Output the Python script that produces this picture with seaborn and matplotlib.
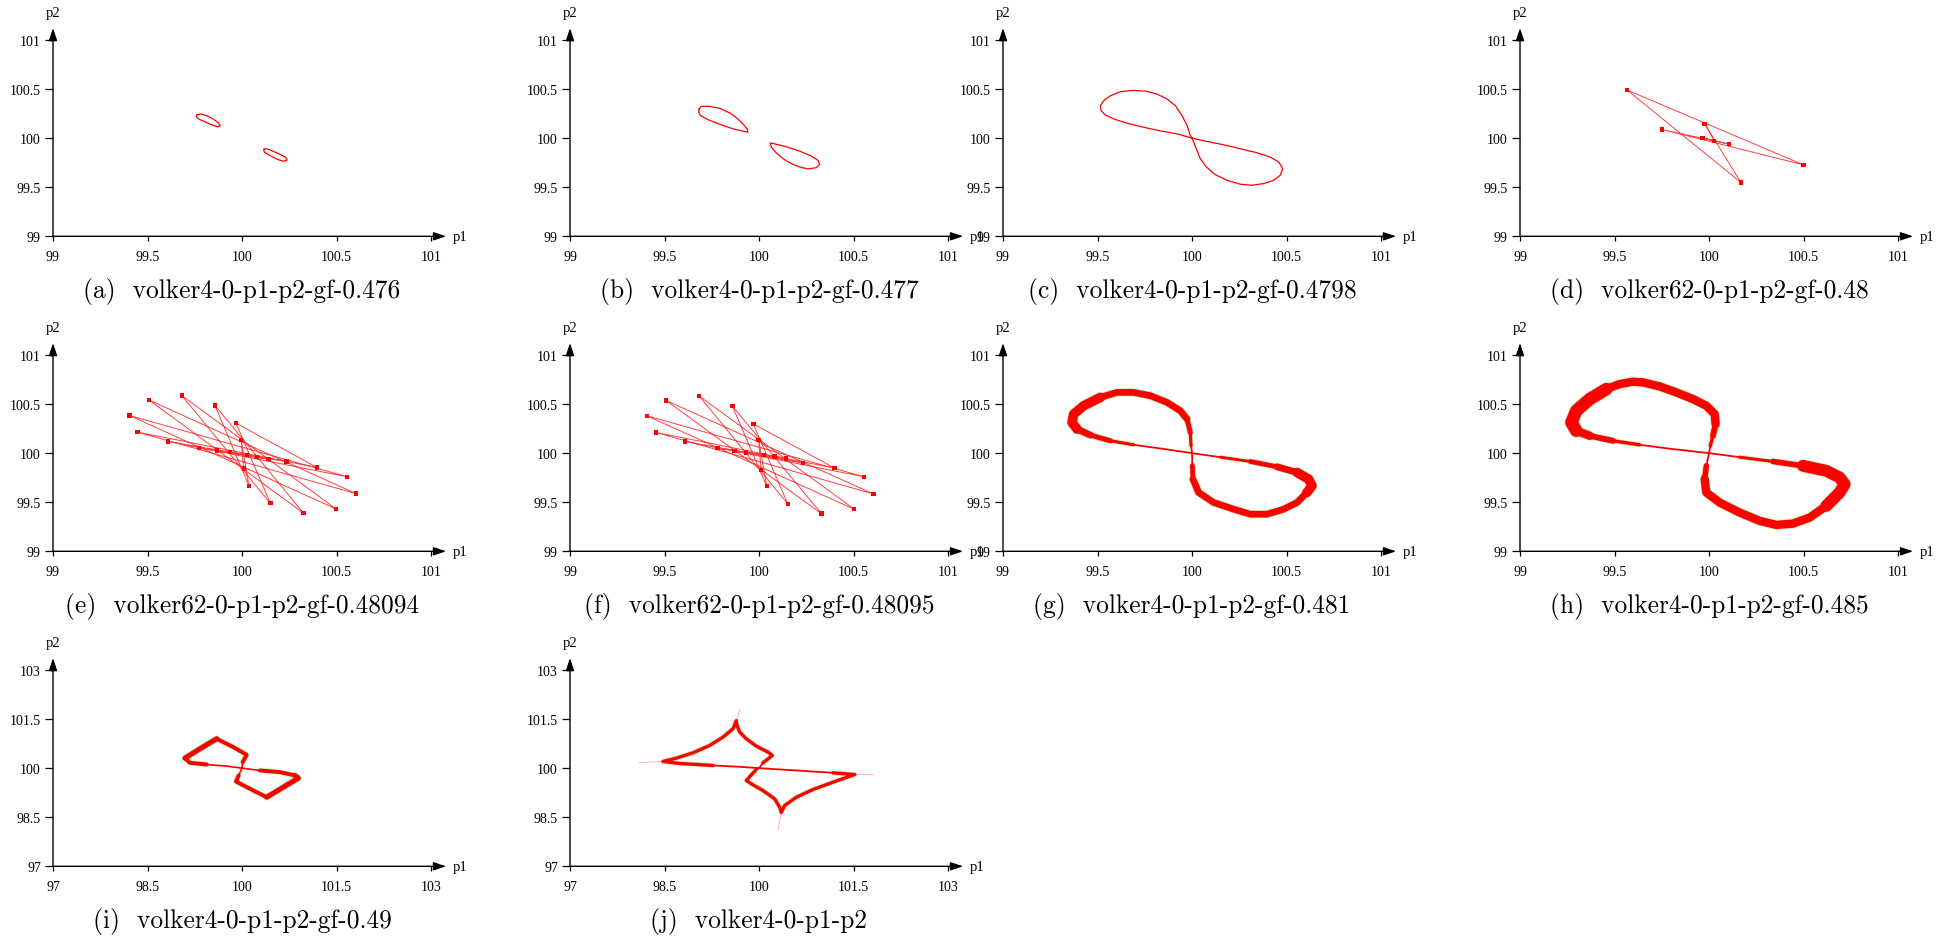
import matplotlib
matplotlib.use("Agg")
import matplotlib.pyplot as plt
import seaborn as sns
import pandas as pd

sns.set_theme(style="white")
plt.rcParams["font.family"] = ["Liberation Serif", "DejaVu Serif"]
for k in ["text.color", "axes.labelcolor", "xtick.color", "ytick.color"]:
    plt.rcParams[k] = "black"

# ---------------- data ----------------
TICKS_SMALL = [99, 99.5, 100, 100.5, 101]
TICK_LABELS_SMALL = ["99", "99.5", "100", "100.5", "101"]
TICKS_LARGE = [97, 98.5, 100, 101.5, 103]
TICK_LABELS_LARGE = ["97", "98.5", "100", "101.5", "103"]

CAPTIONS = [
    "(a)  volker4-0-p1-p2-gf-0.476",
    "(b)  volker4-0-p1-p2-gf-0.477",
    "(c)  volker4-0-p1-p2-gf-0.4798",
    "(d)  volker62-0-p1-p2-gf-0.48",
    "(e)  volker62-0-p1-p2-gf-0.48094",
    "(f)  volker62-0-p1-p2-gf-0.48095",
    "(g)  volker4-0-p1-p2-gf-0.481",
    "(h)  volker4-0-p1-p2-gf-0.485",
    "(i)  volker4-0-p1-p2-gf-0.49",
    "(j)  volker4-0-p1-p2",
]

A_LOOP_UPPER = [(99.761, 100.236), (99.779, 100.247), (99.806, 100.233), (99.841, 100.203),
                (99.876, 100.155), (99.885, 100.125), (99.871, 100.115), (99.841, 100.135),
                (99.800, 100.169), (99.770, 100.196), (99.758, 100.220)]
A_LOOP_LOWER = [(100.115, 99.885), (100.124, 99.895), (100.154, 99.875), (100.194, 99.841),
                (100.230, 99.807), (100.239, 99.777), (100.221, 99.764), (100.186, 99.784),
                (100.147, 99.824), (100.118, 99.858)]

B_LOOP_UPPER = [(99.683, 100.297), (99.695, 100.324), (99.739, 100.324), (99.792, 100.304),
                (99.845, 100.257), (99.884, 100.203), (99.915, 100.145), (99.937, 100.095),
                (99.942, 100.061), (99.924, 100.068), (99.862, 100.095), (99.792, 100.142),
                (99.730, 100.189), (99.690, 100.230), (99.681, 100.264)]
B_LOOP_LOWER = [(100.060, 99.949), (100.074, 99.946), (100.145, 99.912), (100.215, 99.868),
                (100.277, 99.818), (100.312, 99.774), (100.321, 99.733), (100.303, 99.699),
                (100.259, 99.686), (100.215, 99.706), (100.171, 99.740), (100.127, 99.791),
                (100.092, 99.848), (100.065, 99.909)]

C_LOBE_LEFT = [(100.000, 100.000), (99.991, 100.027), (99.974, 100.128), (99.947, 100.230),
               (99.912, 100.331), (99.868, 100.399), (99.815, 100.449), (99.753, 100.480),
               (99.683, 100.486), (99.621, 100.473), (99.568, 100.432), (99.533, 100.382),
               (99.515, 100.331), (99.519, 100.280), (99.541, 100.236), (99.586, 100.196),
               (99.656, 100.152), (99.744, 100.111), (99.832, 100.074), (99.921, 100.044)]
C_LOBE_RIGHT = [(100.000, 100.000), (100.079, 99.966), (100.168, 99.932), (100.256, 99.892),
                (100.344, 99.851), (100.414, 99.807), (100.459, 99.757), (100.480, 99.689),
                (100.467, 99.622), (100.432, 99.571), (100.379, 99.537), (100.317, 99.520),
                (100.256, 99.530), (100.185, 99.571), (100.123, 99.628), (100.076, 99.706),
                (100.044, 99.791), (100.023, 99.892), (100.009, 99.959)]

D_ORBIT = [(100.028, 99.973), (99.965, 100.003), (100.107, 99.939), (99.752, 100.088),
           (100.500, 99.728), (99.567, 100.490), (100.169, 99.548), (99.977, 100.146),
           (100.028, 99.973)]

E_ORBIT = [(100.026, 99.980), (99.938, 100.010), (100.079, 99.959), (99.868, 100.027),
           (100.141, 99.939), (99.774, 100.054), (100.235, 99.915), (99.607, 100.119),
           (100.557, 99.759), (99.404, 100.384), (100.497, 99.432), (99.681, 100.588),
           (100.150, 99.490), (99.968, 100.306), (100.397, 99.854), (99.448, 100.214),
           (100.603, 99.588), (99.508, 100.541), (100.326, 99.388), (99.857, 100.486),
           (100.037, 99.667), (99.995, 100.133), (100.009, 99.844)]

F_ORBIT = [(100.026, 99.980), (99.931, 100.007), (100.081, 99.966), (99.871, 100.024),
           (100.143, 99.946), (99.780, 100.054), (100.233, 99.901), (99.610, 100.119),
           (100.557, 99.759), (99.406, 100.381), (100.504, 99.429), (99.684, 100.582),
           (100.152, 99.483), (99.970, 100.299), (100.400, 99.847), (99.455, 100.211),
           (100.605, 99.585), (99.508, 100.537), (100.330, 99.384), (99.859, 100.480),
           (100.041, 99.663), (99.998, 100.133), (100.011, 99.830)]

G_LOBE_LEFT = [(100.000, 100.000), (99.995, 100.075), (99.991, 100.211), (99.974, 100.347),
               (99.938, 100.432), (99.868, 100.517), (99.780, 100.585), (99.691, 100.619),
               (99.603, 100.619), (99.515, 100.568), (99.427, 100.483), (99.374, 100.398),
               (99.365, 100.313), (99.392, 100.245), (99.462, 100.184), (99.568, 100.126),
               (99.691, 100.085), (99.832, 100.048)]
G_LOBE_RIGHT = [(100.000, 100.000), (100.150, 99.959), (100.309, 99.915), (100.450, 99.861),
                (100.556, 99.803), (100.617, 99.735), (100.635, 99.667), (100.608, 99.599),
                (100.556, 99.497), (100.485, 99.429), (100.397, 99.378), (100.309, 99.378),
                (100.220, 99.429), (100.115, 99.497), (100.035, 99.599), (100.005, 99.735),
                (100.002, 99.871)]

H_LOBE_LEFT = [(100.000, 100.000), (100.007, 100.075), (100.021, 100.177), (100.035, 100.296),
               (100.030, 100.398), (99.986, 100.483), (99.915, 100.551), (99.827, 100.619),
               (99.739, 100.680), (99.651, 100.721), (99.598, 100.728), (99.527, 100.704),
               (99.457, 100.653), (99.369, 100.551), (99.298, 100.432), (99.272, 100.313),
               (99.298, 100.228), (99.369, 100.177), (99.492, 100.126), (99.633, 100.085),
               (99.810, 100.041)]
H_LOBE_RIGHT = [(100.000, 100.000), (100.162, 99.959), (100.339, 99.915), (100.497, 99.871),
                (100.621, 99.820), (100.691, 99.752), (100.718, 99.684), (100.691, 99.599),
                (100.621, 99.463), (100.533, 99.344), (100.444, 99.282), (100.356, 99.269),
                (100.268, 99.310), (100.162, 99.395), (100.056, 99.497), (99.986, 99.599),
                (99.977, 99.735), (99.986, 99.871)]

I_LOBE_LEFT = [(100.000, 100.000), (100.011, 100.184), (100.074, 100.408), (99.862, 100.643),
               (99.598, 100.898), (99.333, 100.592), (99.095, 100.306), (99.175, 100.163),
               (99.439, 100.112), (99.757, 100.061)]
I_LOBE_RIGHT = [(100.000, 100.000), (100.286, 99.929), (100.603, 99.878), (100.841, 99.776),
                (100.894, 99.694), (100.656, 99.418), (100.392, 99.112), (100.180, 99.316),
                (99.905, 99.592), (99.947, 99.776)]

J_LOBE_LEFT = [(100.000, 100.000), (100.063, 100.163), (100.159, 100.306), (100.212, 100.388),
               (100.143, 100.490), (99.958, 100.673), (99.799, 100.898), (99.693, 101.102),
               (99.651, 101.306), (99.640, 101.450), (99.587, 101.204), (99.429, 100.949),
               (99.217, 100.694), (98.952, 100.469), (98.688, 100.306), (98.476, 100.204),
               (98.741, 100.143), (99.270, 100.082), (99.693, 100.041)]
J_LOBE_RIGHT = [(100.000, 100.000), (99.958, 99.959), (99.878, 99.796), (99.799, 99.622),
                (99.878, 99.520), (100.063, 99.316), (100.249, 99.061), (100.328, 98.806),
                (100.354, 98.650), (100.407, 98.857), (100.593, 99.112), (100.857, 99.347),
                (101.175, 99.571), (101.519, 99.806), (101.175, 99.857), (100.593, 99.929)]
J_SPIKES = [[(99.640, 101.450), (99.700, 101.800)],
            [(98.476, 100.204), (98.100, 100.170)],
            [(101.519, 99.806), (101.820, 99.800)],
            [(100.354, 98.650), (100.300, 98.100)]]

# ---------------- drawing ----------------
W, H = 1943, 937
fig = plt.figure(figsize=(W / 100, H / 100), dpi=100)
COLS = [53, 570, 1003, 1520]
ROWS = [41, 356, 671]
AW, AH = 378, 196.3
RED = "#ff0000"
FRINGE = "#3ccf3c"


def make_ax(col, row, large=False):
    x0, yt = COLS[col], ROWS[row]
    ax = fig.add_axes([x0 / W, 1 - (yt + AH) / H, AW / W, AH / H])
    ax.set_facecolor("white")
    for sp in ax.spines.values():
        sp.set_visible(False)
    ticks = TICKS_LARGE if large else TICKS_SMALL
    labels = TICK_LABELS_LARGE if large else TICK_LABELS_SMALL
    ax.set_xlim(ticks[0], ticks[-1])
    ax.set_ylim(ticks[0], ticks[-1])
    ax.set_xticks(ticks)
    ax.set_xticklabels(labels)
    ax.set_yticks(ticks)
    ax.set_yticklabels(labels)
    ax.tick_params(axis="x", bottom=True, direction="out", length=3.5, width=0.9,
                   pad=6.5, labelsize=10)
    ax.tick_params(axis="y", left=True, direction="out", length=5.5, width=0.9,
                   pad=3.2, labelsize=10)
    ax.grid(False)
    arrow = dict(arrowstyle="-|>,head_length=0.75,head_width=0.25", color="black",
                 lw=1.0, shrinkA=0, shrinkB=0, mutation_scale=10)
    ax.annotate("", xy=(1.04, 0), xytext=(0, 0), xycoords="axes fraction",
                textcoords="axes fraction", arrowprops=arrow)
    ax.annotate("", xy=(0, 1.061), xytext=(0, 0), xycoords="axes fraction",
                textcoords="axes fraction", arrowprops=arrow)
    ax.text(1.058, 0.0, "p1", transform=ax.transAxes, ha="left", va="center", fontsize=10.5)
    ax.text(0.0, 1.138, "p2", transform=ax.transAxes, ha="center", va="center", fontsize=10.5)
    return ax


def draw(ax, pts, lw, color=RED, alpha=1.0, closed=False, z=3):
    pts = list(pts) + ([pts[0]] if closed else [])
    df = pd.DataFrame(pts, columns=["p1", "p2"])
    sns.lineplot(data=df, x="p1", y="p2", sort=False, estimator=None, ax=ax,
                 color=color, lw=lw, alpha=alpha, zorder=z,
                 solid_joinstyle="round", solid_capstyle="round")
    ax.set_xlabel("")
    ax.set_ylabel("")


def dots(ax, pts):
    df = pd.DataFrame(pts, columns=["p1", "p2"])
    sns.scatterplot(data=df, x="p1", y="p2", ax=ax, marker="s", s=10, color=RED,
                    edgecolor="none", zorder=4)
    ax.set_xlabel("")
    ax.set_ylabel("")


def caption(ax, text):
    ax.text(0.5, -0.275, text, transform=ax.transAxes, ha="center", va="center",
            fontsize=18.3, family="cmr10")


def layered(ax, lobe, layers, fringe=True):
    # layers: list of (start, end, linewidth) -> tapering band width
    if fringe:
        for s, e, w in layers:
            draw(ax, lobe[s:e + 1], w + 1.4, color=FRINGE, alpha=0.25, z=2)
    for s, e, w in layers:
        draw(ax, lobe[s:e + 1], w)


# (a)
ax = make_ax(0, 0)
draw(ax, A_LOOP_UPPER, 0.9, closed=True)
draw(ax, A_LOOP_LOWER, 0.9, closed=True)
caption(ax, CAPTIONS[0])

# (b)
ax = make_ax(1, 0)
draw(ax, B_LOOP_UPPER, 0.9, closed=True)
draw(ax, B_LOOP_LOWER, 0.9, closed=True)
caption(ax, CAPTIONS[1])

# (c)
ax = make_ax(2, 0)
draw(ax, C_LOBE_LEFT + C_LOBE_RIGHT, 0.9, closed=True)
caption(ax, CAPTIONS[2])

# (d)
ax = make_ax(3, 0)
draw(ax, D_ORBIT, 0.7, alpha=0.75)
dots(ax, D_ORBIT)
caption(ax, CAPTIONS[3])

# (e)
ax = make_ax(0, 1)
draw(ax, E_ORBIT, 0.7, alpha=0.75)
dots(ax, E_ORBIT)
caption(ax, CAPTIONS[4])

# (f)
ax = make_ax(1, 1)
draw(ax, F_ORBIT, 0.7, alpha=0.75)
dots(ax, F_ORBIT)
caption(ax, CAPTIONS[5])

# (g)
ax = make_ax(2, 1)
draw(ax, G_LOBE_LEFT + G_LOBE_RIGHT, 1.3, closed=True)
layered(ax, G_LOBE_LEFT, [(1, 16, 2.3), (2, 15, 3.6), (3, 14, 4.8), (9, 13, 6.8)])
layered(ax, G_LOBE_RIGHT, [(1, 16, 2.0), (2, 16, 3.4), (3, 15, 4.8), (4, 7, 6.8)])
caption(ax, CAPTIONS[6])

# (h)
ax = make_ax(3, 1)
draw(ax, H_LOBE_LEFT + H_LOBE_RIGHT, 1.3, closed=True)
layered(ax, H_LOBE_LEFT, [(1, 19, 2.5), (2, 18, 4.2), (3, 17, 6.0), (12, 16, 9.0)])
layered(ax, H_LOBE_RIGHT, [(1, 17, 2.2), (2, 17, 4.0), (3, 16, 6.0), (3, 8, 8.5)])
caption(ax, CAPTIONS[7])

# (i)
ax = make_ax(0, 2, large=True)
draw(ax, I_LOBE_LEFT + I_LOBE_RIGHT, 1.2, closed=True)
layered(ax, I_LOBE_LEFT, [(1, 8, 2.8), (4, 6, 3.6)])
layered(ax, I_LOBE_RIGHT, [(1, 9, 2.8), (3, 6, 3.6)])
caption(ax, CAPTIONS[8])

# (j)
ax = make_ax(1, 2, large=True)
for sp in J_SPIKES:
    draw(ax, sp, 0.6, alpha=0.35)
draw(ax, J_LOBE_LEFT + J_LOBE_RIGHT, 1.3, closed=True)
layered(ax, J_LOBE_LEFT, [(1, 17, 2.4)])
layered(ax, J_LOBE_RIGHT, [(1, 14, 2.4)])
caption(ax, CAPTIONS[9])

fig.savefig("out.png", dpi=100, facecolor="white")
